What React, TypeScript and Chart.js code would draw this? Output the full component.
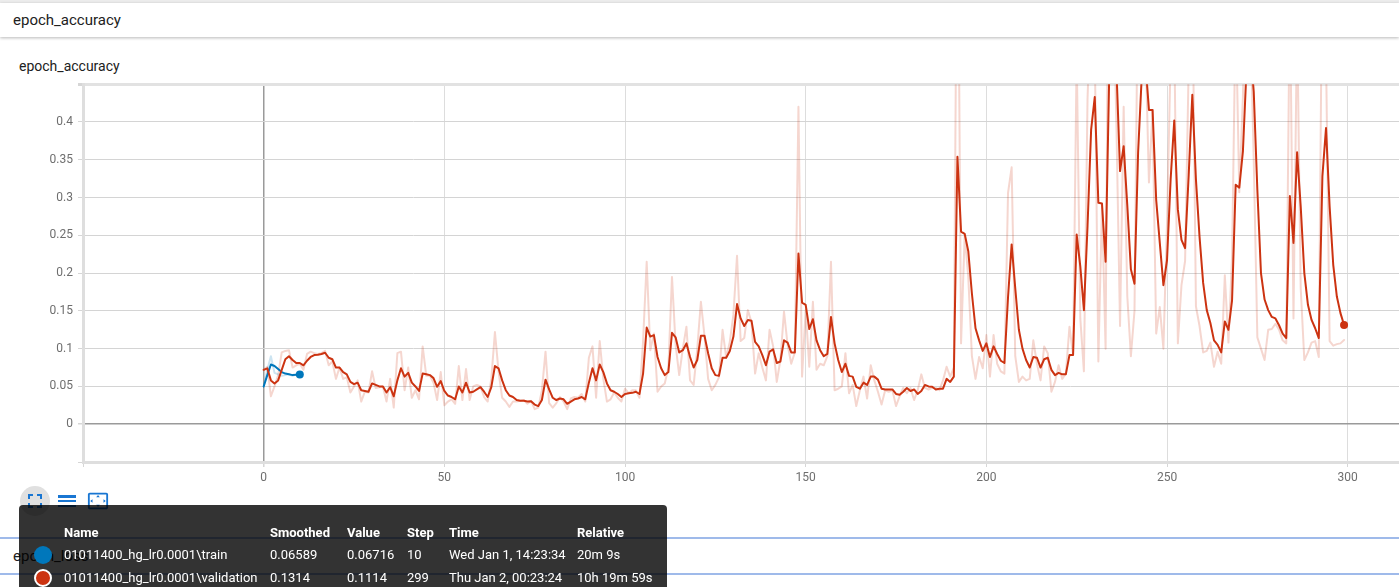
import React, { useEffect, useRef } from 'react';
import { Chart, registerables } from 'chart.js';

Chart.register(...registerables);

// ---- data ----
const trainSmoothed = [0.050, 0.065, 0.079, 0.077, 0.073, 0.069, 0.067, 0.066, 0.065, 0.0655, 0.06589];
const trainRaw = [0.050, 0.072, 0.090, 0.068, 0.066, 0.064, 0.065, 0.066, 0.064, 0.066, 0.06716];

const validationSmoothed = [
  0.072, 0.074, 0.058, 0.054, 0.058, 0.072, 0.086, 0.090, 0.085, 0.081,
  0.081, 0.078, 0.084, 0.089, 0.0915, 0.092, 0.093, 0.0946, 0.088, 0.086,
  0.075, 0.075, 0.069, 0.066, 0.056, 0.053, 0.055, 0.045, 0.044, 0.043,
  0.054, 0.052, 0.050, 0.050, 0.042, 0.049, 0.037, 0.058, 0.074, 0.063,
  0.068, 0.055, 0.050, 0.044, 0.067, 0.066, 0.065, 0.061, 0.0495, 0.057,
  0.044, 0.038, 0.036, 0.033, 0.050, 0.042, 0.055, 0.042, 0.043, 0.046,
  0.049, 0.043, 0.036, 0.049, 0.077, 0.074, 0.058, 0.045, 0.038, 0.036,
  0.032, 0.031, 0.031, 0.030, 0.0305, 0.026, 0.024, 0.032, 0.059, 0.046,
  0.035, 0.032, 0.034, 0.033, 0.027, 0.030, 0.033, 0.034, 0.036, 0.033,
  0.055, 0.074, 0.058, 0.079, 0.069, 0.054, 0.045, 0.043, 0.040, 0.036,
  0.040, 0.041, 0.0415, 0.043, 0.040, 0.067, 0.128, 0.116, 0.118, 0.089,
  0.074, 0.065, 0.069, 0.121, 0.115, 0.095, 0.098, 0.107, 0.089, 0.075,
  0.085, 0.117, 0.117, 0.094, 0.074, 0.065, 0.064, 0.088, 0.088, 0.097,
  0.116, 0.159, 0.140, 0.130, 0.138, 0.137, 0.109, 0.103, 0.0915, 0.078,
  0.096, 0.099, 0.081, 0.083, 0.111, 0.108, 0.095, 0.095, 0.226, 0.161,
  0.158, 0.126, 0.139, 0.111, 0.098, 0.090, 0.093, 0.142, 0.107, 0.085,
  0.069, 0.080, 0.064, 0.063, 0.0495, 0.047, 0.055, 0.052, 0.063, 0.063,
  0.059, 0.047, 0.046, 0.046, 0.046, 0.040, 0.039, 0.043, 0.048, 0.044,
  0.046, 0.040, 0.044, 0.052, 0.050, 0.0495, 0.046, 0.047, 0.047, 0.060,
  0.056, 0.063, 0.354, 0.255, 0.252, 0.229, 0.173, 0.127, 0.111, 0.097,
  0.107, 0.089, 0.103, 0.093, 0.084, 0.081, 0.168, 0.238, 0.180, 0.125,
  0.100, 0.085, 0.075, 0.089, 0.088, 0.075, 0.086, 0.088, 0.072, 0.065,
  0.068, 0.066, 0.066, 0.0915, 0.0915, 0.251, 0.209, 0.151, 0.262, 0.390,
  0.433, 0.293, 0.292, 0.215, 0.460, 0.520, 0.470, 0.335, 0.368, 0.290,
  0.205, 0.186, 0.360, 0.460, 0.480, 0.416, 0.416, 0.297, 0.240, 0.184,
  0.217, 0.324, 0.402, 0.284, 0.244, 0.233, 0.330, 0.436, 0.324, 0.248,
  0.187, 0.151, 0.134, 0.111, 0.105, 0.095, 0.136, 0.125, 0.164, 0.317,
  0.313, 0.361, 0.470, 0.500, 0.440, 0.310, 0.200, 0.165, 0.151, 0.142,
  0.140, 0.131, 0.120, 0.114, 0.302, 0.240, 0.360, 0.288, 0.200, 0.158,
  0.138, 0.127, 0.114, 0.328, 0.392, 0.288, 0.211, 0.169, 0.147, 0.1314,
];

const validationRaw = [
  0.072, 0.076, 0.037, 0.050, 0.065, 0.095, 0.097, 0.098, 0.075, 0.078,
  0.080, 0.072, 0.093, 0.096, 0.094, 0.093, 0.094, 0.097, 0.078, 0.083,
  0.060, 0.075, 0.060, 0.062, 0.042, 0.050, 0.058, 0.030, 0.043, 0.042,
  0.070, 0.048, 0.049, 0.050, 0.030, 0.060, 0.022, 0.094, 0.096, 0.045,
  0.075, 0.035, 0.045, 0.033, 0.103, 0.064, 0.064, 0.055, 0.032, 0.069,
  0.025, 0.030, 0.033, 0.027, 0.077, 0.032, 0.073, 0.032, 0.050, 0.052,
  0.050, 0.036, 0.030, 0.060, 0.122, 0.070, 0.035, 0.030, 0.023, 0.030,
  0.030, 0.031, 0.032, 0.027, 0.031, 0.020, 0.022, 0.045, 0.096, 0.028,
  0.022, 0.028, 0.036, 0.030, 0.020, 0.034, 0.036, 0.035, 0.040, 0.030,
  0.088, 0.103, 0.035, 0.110, 0.060, 0.030, 0.033, 0.042, 0.035, 0.030,
  0.047, 0.041, 0.045, 0.045, 0.035, 0.110, 0.215, 0.098, 0.120, 0.043,
  0.050, 0.054, 0.075, 0.195, 0.105, 0.065, 0.100, 0.129, 0.058, 0.052,
  0.100, 0.162, 0.117, 0.060, 0.045, 0.052, 0.062, 0.125, 0.088, 0.109,
  0.145, 0.223, 0.110, 0.114, 0.151, 0.135, 0.067, 0.094, 0.075, 0.058,
  0.125, 0.103, 0.056, 0.085, 0.149, 0.105, 0.080, 0.095, 0.420, 0.063,
  0.151, 0.076, 0.162, 0.072, 0.080, 0.078, 0.090, 0.215, 0.045, 0.047,
  0.050, 0.094, 0.041, 0.052, 0.024, 0.045, 0.063, 0.034, 0.078, 0.058,
  0.043, 0.026, 0.045, 0.043, 0.045, 0.024, 0.037, 0.048, 0.041, 0.048,
  0.032, 0.045, 0.066, 0.048, 0.046, 0.048, 0.048, 0.045, 0.058, 0.076,
  0.063, 0.075, 0.780, 0.107, 0.250, 0.195, 0.090, 0.060, 0.089, 0.074,
  0.118, 0.063, 0.118, 0.080, 0.070, 0.067, 0.306, 0.340, 0.090, 0.056,
  0.063, 0.058, 0.060, 0.111, 0.080, 0.058, 0.103, 0.094, 0.043, 0.056,
  0.078, 0.060, 0.067, 0.129, 0.092, 0.490, 0.140, 0.070, 0.430, 0.580,
  0.500, 0.083, 0.290, 0.100, 0.830, 0.610, 0.395, 0.130, 0.420, 0.170,
  0.090, 0.150, 0.620, 0.610, 0.510, 0.320, 0.416, 0.120, 0.155, 0.100,
  0.267, 0.485, 0.520, 0.107, 0.184, 0.216, 0.475, 0.595, 0.156, 0.130,
  0.095, 0.097, 0.108, 0.076, 0.096, 0.080, 0.197, 0.108, 0.222, 0.550,
  0.307, 0.433, 0.635, 0.545, 0.350, 0.115, 0.100, 0.085, 0.125, 0.126,
  0.133, 0.125, 0.111, 0.107, 0.580, 0.140, 0.540, 0.180, 0.085, 0.095,
  0.108, 0.110, 0.089, 0.650, 0.490, 0.110, 0.104, 0.106, 0.107, 0.1114,
];

const xTickValues = [-50, 0, 50, 100, 150, 200, 250, 300];
const yTickValues = [-0.05, 0, 0.05, 0.1, 0.15, 0.2, 0.25, 0.3, 0.35, 0.4, 0.45];
const X_MIN = -50;
const X_MAX = 314.2;
const Y_MIN = -0.05;
const Y_MAX = 0.45;

const tableHeader = ['Name', 'Smoothed', 'Value', 'Step', 'Time', 'Relative'];
const tableRows = [
  ['01011400_hg_lr0.0001\\train', '0.06589', '0.06716', '10', 'Wed Jan 1, 14:23:34', '20m 9s'],
  ['01011400_hg_lr0.0001\\validation', '0.1314', '0.1114', '299', 'Thu Jan 2, 00:23:24', '10h 19m 59s'],
];

const TRAIN_COLOR = '#0077bb';
const VAL_COLOR = '#cc3311';

const toPoints = (arr: number[]) => arr.map((y, i) => ({ x: i, y }));

export default function App() {
  const canvasRef = useRef<HTMLCanvasElement | null>(null);

  useEffect(() => {
    if (!canvasRef.current) return;
    Chart.defaults.font.family = 'Roboto, "Noto Sans", sans-serif';
    const lastVal = validationSmoothed.length - 1;
    const lastTrain = trainSmoothed.length - 1;
    const chart = new Chart(canvasRef.current, {
      type: 'line',
      data: {
        datasets: [
          {
            label: 'validation',
            data: toPoints(validationSmoothed),
            borderColor: VAL_COLOR,
            backgroundColor: VAL_COLOR,
            borderWidth: 2,
            pointRadius: (ctx: any) => (ctx.dataIndex === lastVal ? 4 : 0),
            pointBorderWidth: 0,
            pointHoverRadius: 0,
            tension: 0,
          },
          {
            label: 'train',
            data: toPoints(trainSmoothed),
            borderColor: TRAIN_COLOR,
            backgroundColor: TRAIN_COLOR,
            borderWidth: 2,
            pointRadius: (ctx: any) => (ctx.dataIndex === lastTrain ? 4 : 0),
            pointBorderWidth: 0,
            pointHoverRadius: 0,
            tension: 0,
          },
          {
            label: 'train raw',
            data: toPoints(trainRaw),
            borderColor: 'rgba(0,119,187,0.2)',
            borderWidth: 2,
            pointRadius: 0,
            tension: 0,
          },
          {
            label: 'validation raw',
            data: toPoints(validationRaw),
            borderColor: 'rgba(204,51,17,0.2)',
            borderWidth: 2,
            pointRadius: 0,
            tension: 0,
          },
        ],
      },
      options: {
        animation: false,
        responsive: false,
        maintainAspectRatio: false,
        events: [],
        layout: { padding: { top: 5, left: 0, right: 0, bottom: 0 } },
        elements: { line: { borderJoinStyle: 'round', borderCapStyle: 'round' } },
        plugins: { legend: { display: false }, tooltip: { enabled: false } },
        scales: {
          x: {
            type: 'linear',
            min: X_MIN,
            max: X_MAX,
            afterBuildTicks: (scale: any) => {
              scale.ticks = xTickValues.map((v) => ({ value: v }));
            },
            afterFit: (scale: any) => {
              scale.height = 28;
            },
            ticks: {
              autoSkip: false,
              maxRotation: 0,
              padding: 4,
              color: '#6e6e6e',
              font: { size: 12 },
              callback: (v: any) => (v === -50 ? '' : String(v)),
            },
            grid: {
              color: (ctx: any) => (ctx.tick && ctx.tick.value === 0 ? '#9a9a9a' : '#dddddd'),
              lineWidth: (ctx: any) => (ctx.tick && ctx.tick.value === 0 ? 1.5 : 1),
              tickLength: 5,
              tickColor: '#d6d6d6',
            },
            border: { display: true, color: '#dedede', width: 3 },
          },
          y: {
            type: 'linear',
            min: Y_MIN,
            max: Y_MAX,
            afterBuildTicks: (scale: any) => {
              scale.ticks = yTickValues.map((v) => ({ value: v }));
            },
            afterFit: (scale: any) => {
              scale.width = 82;
            },
            ticks: {
              autoSkip: false,
              padding: 5,
              color: '#6e6e6e',
              font: { size: 12 },
              callback: (v: any) => (v <= -0.05 || v >= 0.45 ? '' : String(v)),
            },
            grid: {
              color: (ctx: any) => {
                const v = ctx.tick ? ctx.tick.value : null;
                if (v === 0) return '#9a9a9a';
                if (v === Y_MAX) return '#e2e2e2';
                return '#d4d4d4';
              },
              lineWidth: (ctx: any) => {
                const v = ctx.tick ? ctx.tick.value : null;
                if (v === Y_MAX) return 3;
                if (v === 0) return 1.5;
                return 1;
              },
              tickLength: 5,
              tickColor: '#d6d6d6',
            },
            border: { display: true, color: '#dedede', width: 3 },
          },
        },
      },
    } as any);
    return () => chart.destroy();
  }, []);

  const colX = [64, 270, 347, 407, 449, 577];
  const rowY = [555, 578];
  const rowColors = [TRAIN_COLOR, VAL_COLOR];

  const font = 'Roboto, "Noto Sans", sans-serif';

  return (
    <div
      style={{
        position: 'fixed',
        left: 0,
        top: 0,
        width: 1399,
        height: 587,
        overflow: 'hidden',
        background: '#ffffff',
        fontFamily: font,
      }}
    >
      {/* top strip and header */}
      <div style={{ position: 'absolute', left: 0, top: 0, width: 1399, height: 3, background: '#ececec' }} />
      <div
        style={{
          position: 'absolute',
          left: 0,
          top: 3,
          width: 1399,
          height: 34,
          background: '#ffffff',
          boxShadow: '0 1px 3px rgba(0,0,0,0.28)',
        }}
      >
        <div style={{ position: 'absolute', left: 13, top: 8, fontSize: 15, lineHeight: '18px', color: '#212121' }}>
          epoch_accuracy
        </div>
      </div>

      <div style={{ position: 'absolute', left: 19, top: 58, fontSize: 14, lineHeight: '16px', color: '#212121' }}>
        epoch_accuracy
      </div>

      <canvas
        ref={canvasRef}
        width={1402}
        height={418}
        style={{ position: 'absolute', left: 1, top: 72, width: 1402, height: 418 }}
      />

      {/* next card header (behind the tooltip) */}
      <div style={{ position: 'absolute', left: 0, top: 537, width: 1399, height: 2, background: '#9fbaea' }} />
      <div style={{ position: 'absolute', left: 0, top: 573, width: 1399, height: 2, background: '#9fbaea' }} />
      <div style={{ position: 'absolute', left: 13, top: 547, fontSize: 15, lineHeight: '18px', color: '#212121' }}>
        epoch_loss
      </div>

      {/* toolbar */}
      <div
        style={{
          position: 'absolute',
          left: 20,
          top: 486,
          width: 30,
          height: 30,
          borderRadius: 15,
          background: '#e0e0e0',
        }}
      />
      <svg style={{ position: 'absolute', left: 23, top: 489 }} width={24} height={24} viewBox="0 0 24 24">
        <path
          fill="#1976d2"
          d="M7 14H5v5h5v-2H7v-3zm-2-4h2V7h3V5H5v5zm12 7h-3v2h5v-5h-2v3zM14 5v2h3v3h2V5h-5z"
        />
      </svg>
      <svg style={{ position: 'absolute', left: 55, top: 489 }} width={24} height={24} viewBox="0 0 24 24">
        <path fill="#1976d2" d="M3 18h18v-2H3v2zm0-5h18v-2H3v2zm0-6v2h18V6H3z" />
      </svg>
      <svg style={{ position: 'absolute', left: 87, top: 490 }} width={22} height={22} viewBox="0 0 24 24">
        <path
          fill="#1976d2"
          d="M12.01 5.5L10 8h4l-1.99-2.5zM18 10v4l2.5-1.99L18 10zM6 10l-2.5 2.01L6 14v-4zm8 6h-4l2.01 2.5L14 16zm7-13H3c-1.1 0-2 .9-2 2v14c0 1.1.9 2 2 2h18c1.1 0 2-.9 2-2V5c0-1.1-.9-2-2-2zm0 16.01H3V4.99h18v14.02z"
        />
      </svg>

      {/* tooltip */}
      <div
        style={{
          position: 'absolute',
          left: 19,
          top: 505,
          width: 648,
          height: 100,
          background: 'rgba(0,0,0,0.8)',
          borderRadius: 4,
        }}
      />
      {tableHeader.map((h, i) => (
        <div
          key={'h' + i}
          style={{
            position: 'absolute',
            left: colX[i],
            top: 525,
            fontSize: 13,
            lineHeight: '16px',
            fontWeight: 700,
            color: '#ffffff',
            whiteSpace: 'nowrap',
          }}
        >
          {h}
        </div>
      ))}
      {tableRows.map((row, r) => (
        <React.Fragment key={'r' + r}>
          <div
            style={{
              position: 'absolute',
              left: 34,
              top: rowY[r] - 9,
              width: 18,
              height: 18,
              boxSizing: 'border-box',
              borderRadius: 9,
              background: rowColors[r],
              border: r === 1 ? '2px solid #ffffff' : 'none',
            }}
          />
          {row.map((cell, i) => (
            <div
              key={'c' + i}
              style={{
                position: 'absolute',
                left: colX[i],
                top: rowY[r] - 8,
                fontSize: 13,
                lineHeight: '16px',
                color: '#ffffff',
                whiteSpace: 'nowrap',
              }}
            >
              {cell}
            </div>
          ))}
        </React.Fragment>
      ))}
    </div>
  );
}
